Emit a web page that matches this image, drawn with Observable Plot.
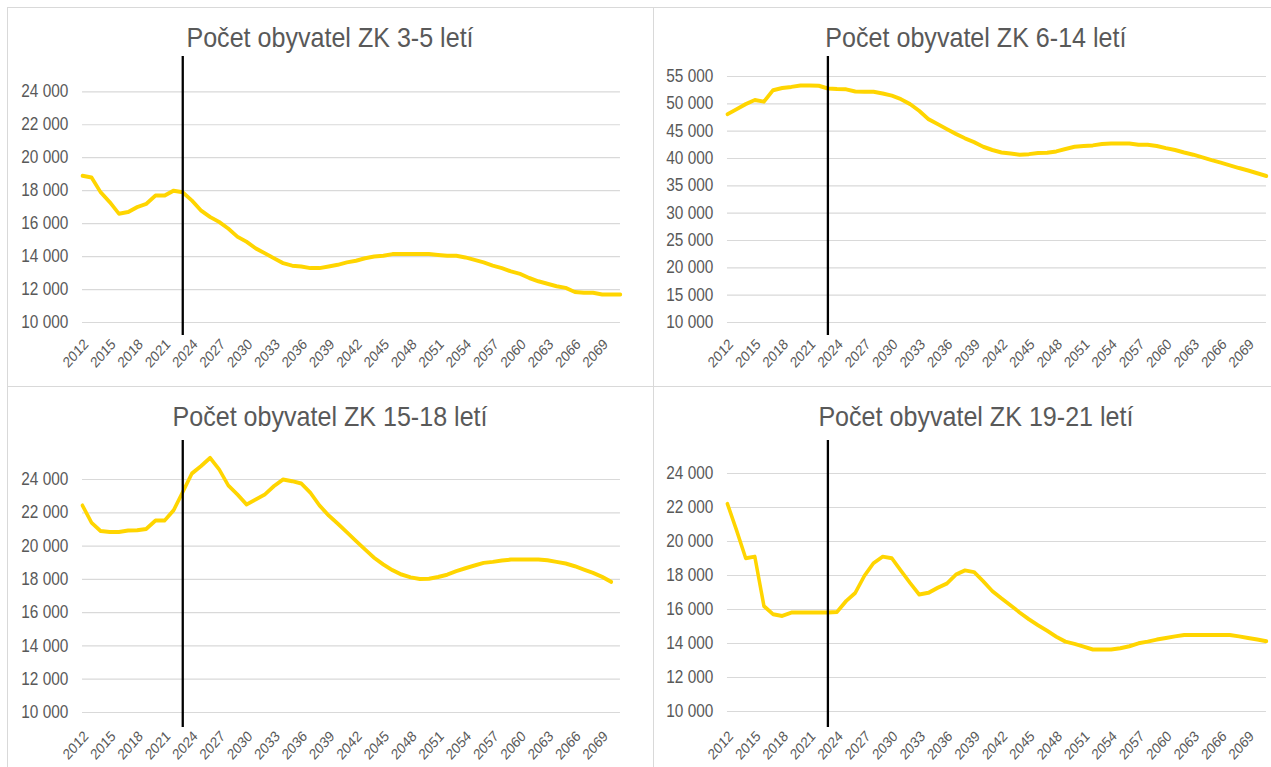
<!DOCTYPE html>
<html><head><meta charset="utf-8">
<script src="https://cdn.jsdelivr.net/npm/d3@7"></script>
<script src="https://cdn.jsdelivr.net/npm/@observablehq/plot@0.6"></script>
<style>
html,body{margin:0;padding:0;background:#fff;width:1271px;height:767px;overflow:hidden}
#page{position:relative;width:1271px;height:767px;overflow:hidden}
#stage{position:absolute;left:0;top:0;width:1444px;height:767px;transform:scaleX(0.88);transform-origin:0 0}
.bl{position:absolute;background:#d9d9d9}
.title{position:absolute;font-family:"Liberation Sans",Arial,sans-serif;font-size:28.5px;color:#595959;white-space:nowrap;transform:translateX(-50%);line-height:1}
.panel{position:absolute}
</style></head>
<body><div id="page"><div id="stage"></div></div>
<script>
// ---- data ----
const years = [2012,2013,2014,2015,2016,2017,2018,2019,2020,2021,2022,2023,2024,2025,2026,2027,2028,2029,2030,2031,2032,2033,2034,2035,2036,2037,2038,2039,2040,2041,2042,2043,2044,2045,2046,2047,2048,2049,2050,2051,2052,2053,2054,2055,2056,2057,2058,2059,2060,2061,2062,2063,2064,2065,2066,2067,2068,2069,2070,2071];
const xTickYears = [2012,2015,2018,2021,2024,2027,2030,2033,2036,2039,2042,2045,2048,2051,2054,2057,2060,2063,2066,2069];
const markerYear = 2023;

const titles = ["Počet obyvatel ZK 3-5 letí","Počet obyvatel ZK 6-14 letí","Počet obyvatel ZK 15-18 letí","Počet obyvatel ZK 19-21 letí"];

const age3_5 = [18900,18800,17900,17300,16600,16700,17000,17200,17700,17700,
  18000,17900,17400,16800,16400,16100,15700,15200,14900,14500,
  14200,13900,13600,13450,13400,13300,13300,13400,13500,13650,
  13750,13900,14000,14050,14150,14150,14150,14150,14150,14100,
  14050,14050,13950,13800,13650,13450,13300,13100,12950,12700,
  12500,12350,12200,12100,11850,11800,11800,11700,11700,11700];
const age6_14 = [48100,49000,49950,50700,50400,52500,52900,53100,53350,53350,
  53300,52800,52700,52650,52250,52200,52200,51900,51500,50850,
  49950,48700,47200,46300,45400,44500,43700,43000,42150,41550,
  41100,40900,40700,40800,41000,41050,41300,41750,42150,42300,
  42400,42650,42750,42750,42750,42500,42500,42300,41900,41550,
  41100,40700,40200,39700,39250,38750,38250,37800,37300,36800];
const age15_18 = [22440,21400,20900,20850,20850,20930,20950,21030,21530,21530,
  22150,23250,24360,24800,25300,24600,23640,23100,22500,22800,
  23100,23600,24000,23900,23760,23200,22440,21840,21350,20830,
  20300,19790,19290,18890,18550,18290,18120,18020,18040,18140,
  18280,18490,18670,18830,18990,19050,19130,19190,19200,19200,
  19200,19150,19050,18950,18790,18590,18390,18150,17850];
const age19_21 = [22220,20660,19020,19110,16200,15720,15620,15820,15820,15820,
  15820,15820,15860,16500,16980,17990,18730,19110,19020,18280,
  17560,16880,16980,17270,17520,18050,18300,18200,17660,17080,
  16650,16240,15820,15430,15080,14750,14400,14110,13980,13820,
  13650,13650,13650,13720,13840,14010,14110,14230,14320,14420,
  14500,14500,14500,14500,14500,14500,14420,14320,14230,14130];

const ticksSmall = [10000,12000,14000,16000,18000,20000,22000,24000];
const ticksLarge = [10000,15000,20000,25000,30000,35000,40000,45000,50000,55000];

const lineColor = "#ffd500";
const textColor = "#595959";
const gridColor = "#d9d9d9";

// ---- layout (stage coordinates; stage is squeezed horizontally) ----
const stage = document.getElementById("stage");
const page = document.getElementById("page");

function border(l,t,w,h){const d=document.createElement("div");d.className="bl";Object.assign(d.style,{left:l+"px",top:t+"px",width:w+"px",height:h+"px"});page.appendChild(d);}
border(7,7,1264,1);border(7,7,1,760);border(653,7,1,760);border(7,386,1264,1);

const fmt = d => d3.format(",")(d).replace(/,/g, " ");

const panels = [
  {title: titles[0], values: age3_5, ticks: ticksSmall, yDomain:[9211,26142], left:8, top:52, width:734, height:334, mt:4, mb:51, ml:85.2, mr:37.5, tx:375, ty:23},
  {title: titles[1], values: age6_14, ticks: ticksLarge, yDomain:[7622,58659], left:743, top:52, width:701, height:334, mt:4, mb:51, ml:83.1, mr:5.4, tx:1109, ty:23},
  {title: titles[2], values: age15_18, ticks: ticksSmall, yDomain:[9099,26343], left:8, top:430, width:734, height:337, mt:10, mb:40, ml:85.2, mr:37.5, tx:375, ty:402},
  {title: titles[3], values: age19_21, ticks: ticksSmall, yDomain:[9059,25941], left:743, top:430, width:701, height:337, mt:10, mb:40, ml:83.1, mr:5.4, tx:1109, ty:402}
];

for (const p of panels) {
  const t = document.createElement("div");
  t.className = "title";
  t.textContent = p.title;
  t.style.left = p.tx + "px";
  t.style.top = p.ty + "px";
  stage.appendChild(t);

  const data = p.values.map((v, i) => ({year: years[i], value: v}));
  const chart = Plot.plot({
    width: p.width, height: p.height,
    marginTop: p.mt, marginBottom: p.mb, marginLeft: p.ml, marginRight: p.mr,
    style: {fontFamily: "'Liberation Sans', Arial, sans-serif", fontSize: "17.5px", color: textColor, background: "transparent", overflow: "visible"},
    x: {domain: [2012, 2071], label: null},
    y: {domain: p.yDomain, label: null},
    marks: [
      Plot.gridY(p.ticks, {stroke: gridColor, strokeOpacity: 1, strokeWidth: 1.2}),
      Plot.axisY(p.ticks, {tickSize: 0, tickPadding: 16, tickFormat: fmt, label: null}),
      Plot.axisX(xTickYears, {tickSize: 0, tickPadding: 2, tickRotate: -45, textAnchor: "end", lineAnchor: "top", tickFormat: d => String(d), label: null, fontSize: 15}),
      Plot.line(data, {x: "year", y: "value", stroke: lineColor, strokeWidth: 4, strokeLinejoin: "round", strokeLinecap: "round"}),
      Plot.ruleX([markerYear], {stroke: "#000", strokeWidth: 2.6})
    ]
  });
  chart.classList.add("panel");
  chart.style.left = p.left + "px";
  chart.style.top = p.top + "px";
  stage.appendChild(chart);
}
</script>
</body></html>
